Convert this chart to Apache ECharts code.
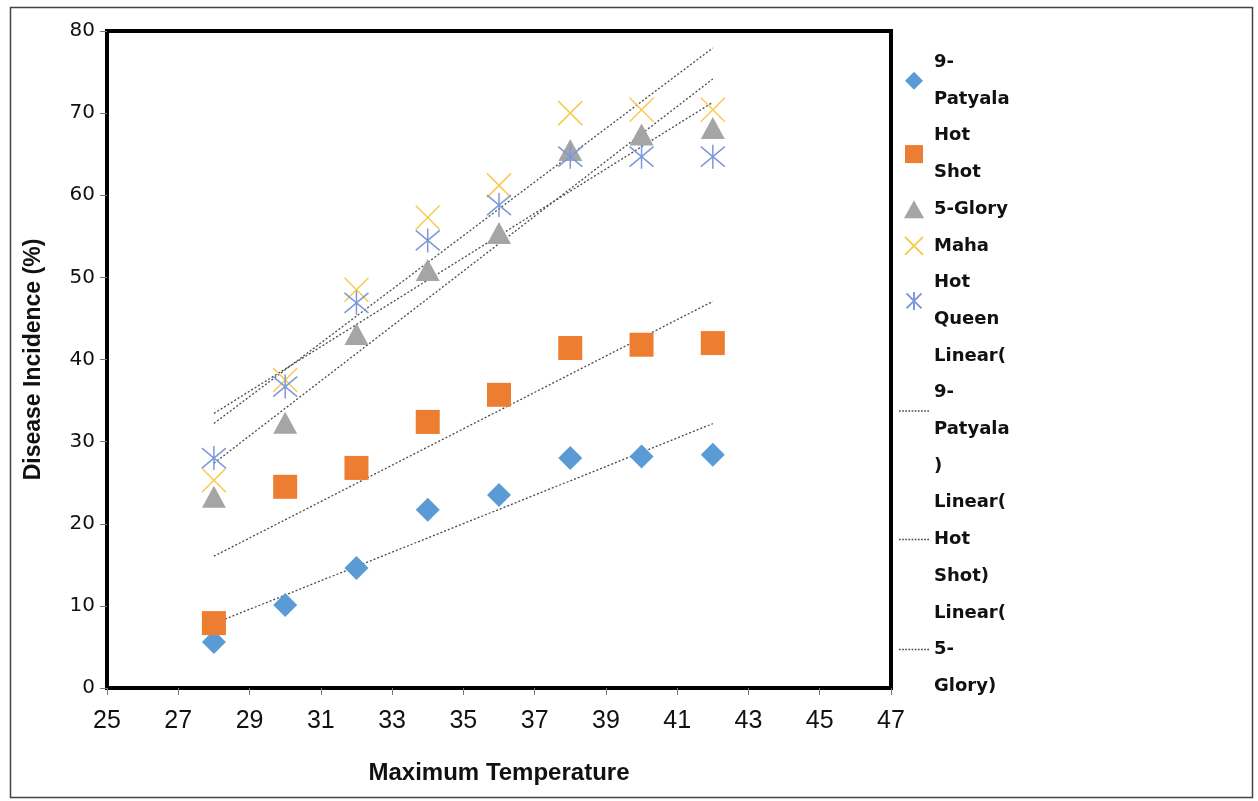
<!DOCTYPE html>
<html>
<head>
<meta charset="utf-8">
<script src="https://cdn.jsdelivr.net/npm/echarts@6/dist/echarts.min.js"></script>
<style>html,body{margin:0;padding:0;background:#fff;}#c{width:1258px;height:801px;}</style>
</head>
<body>
<div id="c"></div>
<script>
const temps = [28, 30, 32, 34, 36, 38, 40, 42];
const patyala = [5.6, 10.1, 14.6, 21.7, 23.5, 28.0, 28.2, 28.4];
const hotShot = [7.9, 24.5, 26.8, 32.4, 35.7, 41.4, 41.8, 42.0];
const glory = [23.3, 32.3, 43.1, 50.9, 55.4, 65.5, 67.4, 68.2];
const maha = [25.3, 37.5, 48.5, 57.3, 61.2, 70.0, 70.4, 70.4];
const hotQueen = [28.0, 36.7, 46.9, 54.5, 58.8, 64.7, 64.7, 64.7];
const xTicks = [25, 27, 29, 31, 33, 35, 37, 39, 41, 43, 45, 47];
const yTicks = [0, 10, 20, 30, 40, 50, 60, 70, 80];

const legendText = {
  '9-Patyala': '9-\nPatyala',
  'Hot Shot': 'Hot\nShot',
  '5-Glory': '5-Glory',
  'Maha': 'Maha',
  'Hot Queen': 'Hot\nQueen',
  'Linear(9-Patyala)': 'Linear(\n9-\nPatyala\n)',
  'Linear(Hot Shot)': 'Linear(\nHot\nShot)',
  'Linear(5-Glory)': 'Linear(\n5-\nGlory)'
};

function pts(ys) { return temps.map((t, i) => [t, ys[i]]); }
function trend(ys) {
  const n = temps.length;
  const mx = temps.reduce((a, b) => a + b, 0) / n;
  const my = ys.reduce((a, b) => a + b, 0) / n;
  let sxy = 0, sxx = 0;
  temps.forEach((t, i) => { sxy += (t - mx) * (ys[i] - my); sxx += (t - mx) * (t - mx); });
  const b = sxy / sxx, a = my - b * mx;
  const x0 = temps[0], x1 = temps[n - 1];
  return [[x0, a + b * x0], [x1, a + b * x1]];
}

const diamondPath = 'path://M5,0L10,5L5,10L0,5Z';
const rectPath = 'path://M0,0L10,0L10,10L0,10Z';
const triPath = 'path://M5,0L10,9L0,9Z';
const xPath = 'path://M0,0L10,10M10,0L0,10';
const starPath = 'path://M0,0L10,10M10,0L0,10M5,-1L5,11';
let dash = '';
for (let i = 0; i < 30; i += 3) dash += 'M' + i + ',0h1.6v1.3h-1.6z';
const dashPath = 'path://' + dash;

function trendSeries(name, ys) {
  return {
    name: name, type: 'line', data: trend(ys), symbol: 'none', silent: true,
    lineStyle: { color: '#4a4a4a', width: 1.3, type: [2, 2] },
    itemStyle: { color: '#4a4a4a' }, z: 3
  };
}

const legendNames = Object.keys(legendText);
const chart = echarts.init(document.getElementById('c'), null, { renderer: 'canvas' });
chart.setOption({
  animation: false,
  backgroundColor: '#fff',
  graphic: [{
    type: 'rect', left: 8, top: 5,
    shape: { width: 1242, height: 790 },
    style: { fill: 'none', stroke: '#444', lineWidth: 1.5 }, z: -1
  }],
  grid: {
    left: 107, top: 31, right: 367, bottom: 113,
    show: true, borderColor: '#000', borderWidth: 4, backgroundColor: 'transparent'
  },
  legend: {
    orient: 'vertical', left: 894, top: 39,
    itemGap: 0, itemWidth: 30, itemHeight: 18, symbolKeepAspect: true,
    data: legendNames.map(n => n.indexOf('Linear') === 0 ? { name: n, icon: dashPath } : { name: n }),
    formatter: n => legendText[n],
    textStyle: { fontFamily: 'DejaVu Sans', fontWeight: 'bold', fontSize: 18, lineHeight: 36.7, color: '#111' }
  },
  xAxis: {
    type: 'value', min: 25, max: 47, interval: 2,
    name: 'Maximum Temperature', nameLocation: 'middle', nameGap: 73,
    nameTextStyle: { fontFamily: 'Liberation Sans', fontWeight: 'bold', fontSize: 24, color: '#111' },
    axisLine: { show: true, lineStyle: { color: '#000', width: 4 } },
    axisTick: { show: true, inside: false, length: 7, lineStyle: { color: '#777', width: 1 } },
    axisLabel: { margin: 21, fontFamily: "'Liberation Sans Narrow', 'Liberation Sans'", fontSize: 25, color: '#111',
      formatter: v => xTicks.indexOf(v) >= 0 ? String(v) : '' },
    splitLine: { show: false }
  },
  yAxis: {
    type: 'value', min: 0, max: 80, interval: 10,
    name: 'Disease Incidence (%)', nameLocation: 'middle', nameGap: 62,
    nameTextStyle: { fontFamily: 'Liberation Sans', fontWeight: 'bold', fontSize: 23, color: '#111' },
    axisLine: { show: true, lineStyle: { color: '#000', width: 4 } },
    axisTick: { show: true, inside: false, length: 7, lineStyle: { color: '#777', width: 1 } },
    axisLabel: { margin: 12, fontFamily: 'DejaVu Sans', fontSize: 20, color: '#111',
      formatter: v => yTicks.indexOf(v) >= 0 ? String(v) : '' },
    splitLine: { show: false }
  },
  series: [
    { name: '9-Patyala', type: 'scatter', data: pts(patyala), symbol: diamondPath, symbolSize: 24,
      itemStyle: { color: '#5B9BD5', opacity: 1 }, z: 4 },
    { name: 'Hot Shot', type: 'scatter', data: pts(hotShot), symbol: rectPath, symbolSize: 24,
      itemStyle: { color: '#ED7D31', opacity: 1 }, z: 4 },
    { name: '5-Glory', type: 'scatter', data: pts(glory), symbol: triPath, symbolSize: [24, 22],
      itemStyle: { color: '#A5A5A5', opacity: 1 }, z: 4 },
    { name: 'Maha', type: 'scatter', data: pts(maha), symbol: xPath, symbolSize: 24,
      itemStyle: { color: 'none', borderColor: '#F7CB4D', borderWidth: 1.5, opacity: 1 }, z: 5 },
    { name: 'Hot Queen', type: 'scatter', data: pts(hotQueen), symbol: starPath, symbolSize: 24,
      itemStyle: { color: 'none', borderColor: '#7D98DA', borderWidth: 1.5, opacity: 1 }, z: 5 },
    trendSeries('Linear(9-Patyala)', patyala),
    trendSeries('Linear(Hot Shot)', hotShot),
    trendSeries('Linear(5-Glory)', glory),
    trendSeries('Linear(Maha)', maha),
    trendSeries('Linear(Hot Queen)', hotQueen)
  ]
});
</script>
</body>
</html>
